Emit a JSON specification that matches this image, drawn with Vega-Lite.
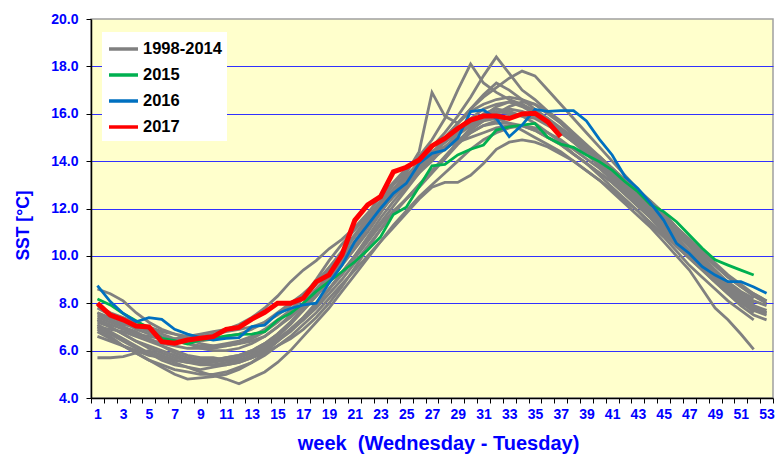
{
"$schema": "https://vega.github.io/schema/vega-lite/v6.json",
"width": 682, "height": 379,
"autosize": {"type": "none"},
"padding": {"left": 91, "top": 19, "right": 3, "bottom": 56},
"background": "white",
"config": {
  "font": "Liberation Sans",
  "view": {"fill": "#FFFFCC", "stroke": "#A0A0A0", "strokeWidth": 1.5},
  "axisY": {"values": [4,6,8,10,12,14,16,18,20], "format": ".1f", "labelColor": "#0000FF", "labelFontSize": 14, "labelFontWeight": "bold", "labelPadding": 8, "tickColor": "black", "tickSize": 5, "domainColor": "black", "domainWidth": 1.5, "grid": true, "gridColor": {"condition": {"test": "datum.value == 20 || datum.value == 4", "value": null}, "value": "#3030FF"}, "gridWidth": 1, "titleColor": "#0000FF", "titleFontSize": 17.5, "titleFontWeight": "bold", "titlePadding": 18, "titleY": 206},
  "axisX": {"labelExpr": "datum.value % 2 == 1 ? datum.label : ''", "labelAngle": 0, "labelOverlap": false, "tickBand": "extent", "labelColor": "#0000FF", "labelFontSize": 14, "labelFontWeight": "bold", "labelPadding": 4, "tickColor": "black", "tickSize": 5, "domainColor": "black", "domainWidth": 1.5, "grid": false, "titleColor": "#0000FF", "titleFontSize": 20, "titleFontWeight": "bold", "titlePadding": 12, "titleX": 347}
},
"data": {"values": [
{"w":1,"a":7.6,"b":8.6,"c":5.7,"d":7.0,"e":6.9,"f":7.3,"g":7.8,"h":7.4,"i":7.1,"j":6.8,"k":7.5,"l":6.6,"m":7.3,"n":7.0,"o":7.9,"p":7.2,"q":7.6,"g15":8.18,"g16":8.74,"g17":8.0},
{"w":2,"a":7.3,"b":8.4,"c":5.7,"d":6.7,"e":6.6,"f":7.0,"g":7.5,"h":7.2,"i":6.8,"j":6.5,"k":7.3,"l":6.4,"m":7.1,"n":6.9,"o":7.6,"p":7.0,"q":7.4,"g15":7.93,"g16":8.07,"g17":7.5},
{"w":3,"a":7.1,"b":8.1,"c":5.75,"d":6.4,"e":6.2,"f":6.7,"g":7.2,"h":7.0,"i":6.5,"j":6.2,"k":7.0,"l":6.2,"m":6.9,"n":6.8,"o":7.4,"p":6.7,"q":7.2,"g15":7.57,"g16":7.57,"g17":7.3},
{"w":4,"a":7.0,"b":7.6,"c":5.9,"d":6.1,"e":5.9,"f":6.4,"g":6.9,"h":6.8,"i":6.2,"j":5.9,"k":6.7,"l":6.0,"m":6.7,"n":6.6,"o":7.2,"p":6.4,"q":7.0,"g15":7.26,"g16":7.22,"g17":7.04},
{"w":5,"a":6.8,"b":7.2,"c":6.0,"d":5.9,"e":5.6,"f":6.1,"g":6.7,"h":6.5,"i":5.9,"j":5.6,"k":6.5,"l":5.8,"m":6.6,"n":6.4,"o":7.0,"p":6.2,"q":6.9,"g15":6.94,"g16":7.39,"g17":7.0},
{"w":6,"a":6.6,"b":6.9,"c":5.8,"d":5.7,"e":5.3,"f":5.9,"g":6.5,"h":6.2,"i":5.6,"j":5.4,"k":6.3,"l":5.7,"m":6.5,"n":6.2,"o":6.8,"p":6.0,"q":6.7,"g15":6.52,"g16":7.32,"g17":6.38},
{"w":7,"a":6.5,"b":6.7,"c":5.6,"d":5.5,"e":5.0,"f":5.7,"g":6.4,"h":5.9,"i":5.4,"j":5.2,"k":6.2,"l":5.6,"m":6.5,"n":6.0,"o":6.7,"p":5.8,"q":6.5,"g15":6.42,"g16":6.9,"g17":6.31},
{"w":8,"a":6.5,"b":6.5,"c":5.5,"d":5.3,"e":4.8,"f":5.6,"g":6.3,"h":5.7,"i":5.3,"j":5.1,"k":6.1,"l":5.5,"m":6.6,"n":5.8,"o":6.6,"p":5.6,"q":6.3,"g15":6.28,"g16":6.7,"g17":6.45},
{"w":9,"a":6.4,"b":6.3,"c":5.4,"d":5.1,"e":4.85,"f":5.5,"g":6.2,"h":5.6,"i":5.2,"j":5.0,"k":6.1,"l":5.5,"m":6.7,"n":5.7,"o":6.6,"p":5.5,"q":6.1,"g15":6.45,"g16":6.55,"g17":6.52},
{"w":10,"a":6.5,"b":6.2,"c":5.4,"d":4.95,"e":4.9,"f":5.5,"g":6.2,"h":5.6,"i":5.3,"j":5.0,"k":6.1,"l":5.6,"m":6.8,"n":5.7,"o":6.7,"p":5.4,"q":6.0,"g15":6.52,"g16":6.45,"g17":6.59},
{"w":11,"a":6.6,"b":6.2,"c":5.5,"d":4.8,"e":5.0,"f":5.6,"g":6.3,"h":5.7,"i":5.4,"j":5.1,"k":6.2,"l":5.7,"m":6.9,"n":5.6,"o":6.8,"p":5.4,"q":6.0,"g15":6.62,"g16":6.52,"g17":6.9},
{"w":12,"a":6.7,"b":6.3,"c":5.6,"d":4.6,"e":5.2,"f":5.7,"g":6.4,"h":5.8,"i":5.5,"j":5.3,"k":6.3,"l":5.8,"m":7.1,"n":5.6,"o":6.9,"p":5.5,"q":6.1,"g15":6.69,"g16":6.55,"g17":6.98},
{"w":13,"a":6.9,"b":6.4,"c":5.8,"d":4.85,"e":5.5,"f":5.9,"g":6.6,"h":6.0,"i":5.7,"j":5.5,"k":6.5,"l":6.0,"m":7.4,"n":5.7,"o":7.0,"p":5.7,"q":6.3,"g15":6.7,"g16":7.01,"g17":7.33},
{"w":14,"a":7.2,"b":6.6,"c":6.1,"d":5.1,"e":5.9,"f":6.2,"g":6.9,"h":6.3,"i":6.0,"j":5.8,"k":6.8,"l":6.3,"m":7.8,"n":5.9,"o":7.2,"p":6.0,"q":6.6,"g15":6.8,"g16":7.08,"g17":7.62},
{"w":15,"a":7.6,"b":7.0,"c":6.5,"d":5.5,"e":6.4,"f":6.6,"g":7.3,"h":6.7,"i":6.4,"j":6.2,"k":7.2,"l":6.7,"m":8.3,"n":6.2,"o":7.5,"p":6.4,"q":7.0,"g15":7.29,"g16":7.57,"g17":8.0},
{"w":16,"a":8.0,"b":7.4,"c":6.9,"d":6.0,"e":6.9,"f":7.1,"g":7.7,"h":7.2,"i":6.9,"j":6.6,"k":7.7,"l":7.2,"m":8.9,"n":6.5,"o":7.9,"p":6.8,"q":7.5,"g15":7.57,"g16":7.78,"g17":8.0},
{"w":17,"a":8.4,"b":7.9,"c":7.3,"d":6.6,"e":7.4,"f":7.7,"g":8.2,"h":7.7,"i":7.4,"j":7.1,"k":8.3,"l":7.8,"m":9.4,"n":6.9,"o":8.4,"p":7.3,"q":8.0,"g15":8.0,"g16":7.93,"g17":8.21},
{"w":18,"a":8.9,"b":8.4,"c":7.8,"d":7.2,"e":8.0,"f":8.3,"g":8.8,"h":8.3,"i":8.0,"j":7.6,"k":9.0,"l":8.5,"m":9.8,"n":7.4,"o":8.9,"p":7.9,"q":8.6,"g15":8.5,"g16":8.0,"g17":8.9},
{"w":19,"a":9.4,"b":9.0,"c":8.4,"d":7.8,"e":8.6,"f":9.0,"g":9.5,"h":8.9,"i":8.6,"j":8.2,"k":9.8,"l":9.2,"m":10.3,"n":8.0,"o":9.5,"p":8.6,"q":9.2,"g15":8.91,"g16":8.85,"g17":9.2},
{"w":20,"a":10.0,"b":9.7,"c":9.0,"d":8.5,"e":9.2,"f":9.7,"g":10.1,"h":9.6,"i":9.3,"j":8.8,"k":10.5,"l":9.9,"m":10.7,"n":8.7,"o":10.2,"p":9.3,"q":9.8,"g15":9.33,"g16":9.6,"g17":10.04},
{"w":21,"a":10.6,"b":10.4,"c":9.7,"d":9.2,"e":9.9,"f":10.4,"g":10.8,"h":10.3,"i":10.0,"j":9.4,"k":11.1,"l":10.6,"m":11.2,"n":9.5,"o":10.9,"p":10.0,"q":10.5,"g15":9.75,"g16":10.6,"g17":11.5},
{"w":22,"a":11.3,"b":11.2,"c":10.4,"d":9.9,"e":10.6,"f":11.2,"g":11.5,"h":11.0,"i":10.7,"j":10.0,"k":11.7,"l":11.4,"m":11.8,"n":10.3,"o":11.6,"p":10.8,"q":11.2,"g15":10.25,"g16":11.3,"g17":12.15},
{"w":23,"a":12.0,"b":11.9,"c":11.1,"d":10.6,"e":11.3,"f":12.0,"g":12.3,"h":11.8,"i":11.4,"j":10.6,"k":12.3,"l":12.1,"m":12.5,"n":11.1,"o":12.2,"p":11.6,"q":11.9,"g15":10.8,"g16":12.0,"g17":12.5},
{"w":24,"a":12.6,"b":12.5,"c":11.8,"d":11.3,"e":11.9,"f":12.8,"g":13.0,"h":12.6,"i":12.1,"j":11.2,"k":12.8,"l":12.7,"m":13.1,"n":11.8,"o":12.8,"p":12.3,"q":12.5,"g15":11.75,"g16":12.64,"g17":13.55},
{"w":25,"a":13.3,"b":13.0,"c":12.4,"d":11.9,"e":12.4,"f":13.5,"g":13.6,"h":13.3,"i":12.8,"j":11.8,"k":13.4,"l":13.2,"m":13.7,"n":12.4,"o":13.3,"p":12.9,"q":13.1,"g15":12.05,"g16":13.06,"g17":13.74},
{"w":26,"a":13.9,"b":13.6,"c":13.0,"d":12.5,"e":12.9,"f":14.4,"g":14.2,"h":14.0,"i":13.5,"j":12.4,"k":13.9,"l":13.7,"m":14.1,"n":13.0,"o":13.8,"p":13.5,"q":13.7,"g15":12.92,"g16":13.9,"g17":14.05},
{"w":27,"a":14.3,"b":14.1,"c":13.6,"d":13.0,"e":13.5,"f":16.9,"g":14.9,"h":14.6,"i":14.2,"j":12.9,"k":14.4,"l":14.1,"m":14.4,"n":13.6,"o":14.3,"p":14.0,"q":14.3,"g15":13.8,"g16":14.33,"g17":14.64},
{"w":28,"a":14.8,"b":14.6,"c":14.1,"d":13.5,"e":14.1,"f":15.9,"g":15.8,"h":15.2,"i":14.9,"j":13.1,"k":14.8,"l":14.5,"m":14.6,"n":14.2,"o":14.8,"p":14.6,"q":15.0,"g15":13.86,"g16":14.47,"g17":14.96},
{"w":29,"a":15.2,"b":15.1,"c":14.7,"d":14.0,"e":14.8,"f":15.6,"g":17.0,"h":15.9,"i":15.6,"j":13.1,"k":15.2,"l":14.9,"m":14.8,"n":14.8,"o":15.3,"p":15.1,"q":15.6,"g15":14.26,"g16":14.96,"g17":15.38},
{"w":30,"a":15.6,"b":15.5,"c":15.2,"d":14.5,"e":15.4,"f":16.2,"g":18.1,"h":16.7,"i":16.2,"j":13.4,"k":15.5,"l":15.2,"m":15.0,"n":15.3,"o":15.8,"p":15.6,"q":16.1,"g15":14.5,"g16":16.09,"g17":15.73},
{"w":31,"a":15.9,"b":15.8,"c":15.5,"d":14.9,"e":15.9,"f":16.8,"g":17.3,"h":17.6,"i":16.7,"j":13.9,"k":15.7,"l":15.5,"m":15.2,"n":15.7,"o":16.2,"p":16.0,"q":16.4,"g15":14.68,"g16":16.16,"g17":15.9},
{"w":32,"a":16.1,"b":16.0,"c":15.6,"d":15.2,"e":16.3,"f":17.3,"g":16.9,"h":18.4,"i":17.1,"j":14.5,"k":15.8,"l":15.7,"m":15.4,"n":16.0,"o":16.4,"p":16.2,"q":16.6,"g15":15.31,"g16":15.8,"g17":15.9},
{"w":33,"a":16.0,"b":16.2,"c":15.6,"d":15.4,"e":16.5,"f":17.0,"g":16.6,"h":17.7,"i":17.5,"j":14.8,"k":15.6,"l":15.9,"m":15.5,"n":16.3,"o":16.5,"p":16.1,"q":16.7,"g15":15.45,"g16":15.03,"g17":15.8},
{"w":34,"a":15.9,"b":16.1,"c":15.5,"d":15.5,"e":16.4,"f":16.6,"g":16.4,"h":17.0,"i":17.8,"j":14.9,"k":15.3,"l":16.0,"m":15.5,"n":16.5,"o":16.3,"p":15.9,"q":16.6,"g15":15.52,"g16":15.52,"g17":15.99},
{"w":35,"a":15.8,"b":15.9,"c":15.3,"d":15.4,"e":16.1,"f":16.2,"g":16.1,"h":16.6,"i":17.6,"j":14.8,"k":15.0,"l":15.9,"m":15.3,"n":16.4,"o":16.0,"p":15.6,"q":16.4,"g15":15.59,"g16":16.18,"g17":16.02},
{"w":36,"a":15.5,"b":15.6,"c":15.0,"d":15.2,"e":15.7,"f":15.8,"g":15.8,"h":16.1,"i":17.0,"j":14.6,"k":14.7,"l":15.6,"m":15.0,"n":16.1,"o":15.6,"p":15.2,"q":16.0,"g15":15.0,"g16":16.1,"g17":15.66},
{"w":37,"a":15.2,"b":15.3,"c":14.7,"d":14.9,"e":15.3,"f":15.3,"g":15.4,"h":15.6,"i":16.4,"j":14.3,"k":14.4,"l":15.3,"m":14.7,"n":15.7,"o":15.2,"p":14.8,"q":15.6,"g15":14.72,"g16":16.13,"g17":15.03},
{"w":38,"a":14.8,"b":14.9,"c":14.3,"d":14.5,"e":14.9,"f":14.8,"g":15.0,"h":15.1,"i":15.8,"j":14.0,"k":14.0,"l":14.9,"m":14.3,"n":15.2,"o":14.8,"p":14.3,"q":15.1,"g15":14.58,"g16":16.13},
{"w":39,"a":14.5,"b":14.4,"c":13.9,"d":14.1,"e":14.4,"f":14.3,"g":14.6,"h":14.6,"i":15.2,"j":13.6,"k":13.6,"l":14.5,"m":13.9,"n":14.7,"o":14.4,"p":13.9,"q":14.6,"g15":14.26,"g16":15.7},
{"w":40,"a":14.1,"b":14.0,"c":13.5,"d":13.7,"e":13.9,"f":13.8,"g":14.1,"h":14.1,"i":14.6,"j":13.2,"k":13.2,"l":14.1,"m":13.5,"n":14.2,"o":14.0,"p":13.4,"q":14.2,"g15":13.98,"g16":14.93},
{"w":41,"a":13.7,"b":13.5,"c":13.1,"d":13.2,"e":13.4,"f":13.3,"g":13.6,"h":13.6,"i":14.0,"j":12.7,"k":12.8,"l":13.6,"m":13.1,"n":13.7,"o":13.6,"p":12.9,"q":13.7,"g15":13.62,"g16":14.26},
{"w":42,"a":13.2,"b":13.0,"c":12.6,"d":12.7,"e":12.9,"f":12.8,"g":13.1,"h":13.0,"i":13.4,"j":12.2,"k":12.3,"l":13.1,"m":12.6,"n":13.2,"o":13.2,"p":12.4,"q":13.2,"g15":13.13,"g16":13.34},
{"w":43,"a":12.7,"b":12.4,"c":12.1,"d":12.2,"e":12.4,"f":12.3,"g":12.6,"h":12.5,"i":12.8,"j":11.7,"k":11.9,"l":12.6,"m":12.1,"n":12.7,"o":12.7,"p":11.9,"q":12.7,"g15":12.71,"g16":12.85},
{"w":44,"a":12.3,"b":11.8,"c":11.6,"d":11.7,"e":11.9,"f":11.8,"g":12.1,"h":12.0,"i":12.3,"j":11.2,"k":11.4,"l":12.1,"m":11.6,"n":12.2,"o":12.2,"p":11.3,"q":12.2,"g15":12.15,"g16":12.22},
{"w":45,"a":11.8,"b":11.2,"c":11.0,"d":11.1,"e":11.3,"f":11.3,"g":11.6,"h":11.4,"i":11.8,"j":10.6,"k":10.9,"l":11.6,"m":11.0,"n":11.7,"o":11.7,"p":10.8,"q":11.6,"g15":11.87,"g16":11.51},
{"w":46,"a":11.2,"b":10.6,"c":10.5,"d":10.5,"e":10.7,"f":10.8,"g":11.1,"h":10.9,"i":11.2,"j":10.0,"k":10.4,"l":11.0,"m":10.4,"n":11.2,"o":11.1,"p":10.2,"q":11.0,"g15":11.44,"g16":10.53},
{"w":47,"a":10.7,"b":10.1,"c":10.0,"d":10.0,"e":10.2,"f":10.2,"g":10.6,"h":10.4,"i":10.7,"j":9.4,"k":9.9,"l":10.4,"m":9.9,"n":10.6,"o":10.5,"p":9.6,"q":10.4,"g15":10.88,"g16":10.1},
{"w":48,"a":10.1,"b":9.6,"c":9.5,"d":9.5,"e":9.7,"f":9.7,"g":10.1,"h":9.9,"i":10.2,"j":8.6,"k":9.4,"l":9.8,"m":9.4,"n":10.0,"o":9.9,"p":9.1,"q":9.8,"g15":10.32,"g16":9.54},
{"w":49,"a":9.6,"b":9.1,"c":9.0,"d":9.0,"e":9.2,"f":9.2,"g":9.6,"h":9.4,"i":9.7,"j":7.8,"k":8.9,"l":9.2,"m":8.9,"n":9.4,"o":9.3,"p":8.6,"q":9.2,"g15":9.83,"g16":9.19},
{"w":50,"a":9.1,"b":8.6,"c":8.5,"d":8.6,"e":8.7,"f":8.8,"g":9.1,"h":8.9,"i":9.2,"j":7.3,"k":8.4,"l":8.6,"m":8.4,"n":8.8,"o":8.8,"p":8.1,"q":8.7,"g15":9.61,"g16":8.91},
{"w":51,"a":8.7,"b":8.2,"c":8.1,"d":8.2,"e":8.3,"f":8.4,"g":8.7,"h":8.5,"i":8.8,"j":6.7,"k":7.9,"l":8.1,"m":8.0,"n":8.3,"o":8.4,"p":7.7,"q":8.2,"g15":9.4,"g16":8.91},
{"w":52,"a":8.4,"b":7.9,"c":7.8,"d":7.9,"e":7.9,"f":8.0,"g":8.3,"h":8.2,"i":8.4,"j":6.05,"k":7.5,"l":7.6,"m":7.7,"n":7.9,"o":8.1,"p":7.3,"q":7.8,"g15":9.19,"g16":8.69},
{"w":53,"a":8.1,"c":7.6,"e":7.7,"g":8.0,"i":8.1,"k":7.3,"m":7.5,"o":7.9,"q":7.6,"g16":8.42}
]},
"encoding": {
  "x": {"field": "w", "type": "ordinal", "bandPosition": 0.5, "scale": {"type": "band", "paddingInner": 0, "paddingOuter": 0}, "title": "week\u00a0 (Wednesday - Tuesday)"}
},
"layer": [
  {
    "transform": [
      {"fold": ["a","b","c","d","e","f","g","h","i","j","k","l","m","n","o","p","q"], "as": ["yr","v"]},
      {"filter": "isValid(datum.v)"}
    ],
    "mark": {"type": "line", "strokeWidth": 2.8},
    "encoding": {
      "y": {"field": "v", "type": "quantitative", "scale": {"domain": [4, 20], "nice": false}, "title": "SST [°C]"},
      "detail": {"field": "yr"},
      "color": {"datum": "1998-2014", "type": "nominal", "scale": {"domain": ["1998-2014","2015","2016","2017"], "range": ["#808080","#00B050","#0070C0","#FF0000"]},
        "legend": {"orient": "none", "legendX": 11, "legendY": 13, "title": null, "fillColor": "white", "padding": 5, "symbolType": "M-1,0H1.9", "symbolSize": 400, "symbolStrokeWidth": 3.5, "labelFont": "Liberation Sans", "labelFontSize": 16.5, "labelFontWeight": "bold", "labelColor": "black", "rowPadding": 5, "labelOffset": 12}}
    }
  },
  {
    "mark": {"type": "line", "strokeWidth": 2.8},
    "encoding": {
      "y": {"field": "g15", "type": "quantitative", "title": "SST [°C]"},
      "color": {"datum": "2015", "type": "nominal"}
    }
  },
  {
    "mark": {"type": "line", "strokeWidth": 2.8},
    "encoding": {
      "y": {"field": "g16", "type": "quantitative", "title": "SST [°C]"},
      "color": {"datum": "2016", "type": "nominal"}
    }
  },
  {
    "mark": {"type": "line", "strokeWidth": 5},
    "encoding": {
      "y": {"field": "g17", "type": "quantitative", "title": "SST [°C]"},
      "color": {"datum": "2017", "type": "nominal"}
    }
  }
]
}
